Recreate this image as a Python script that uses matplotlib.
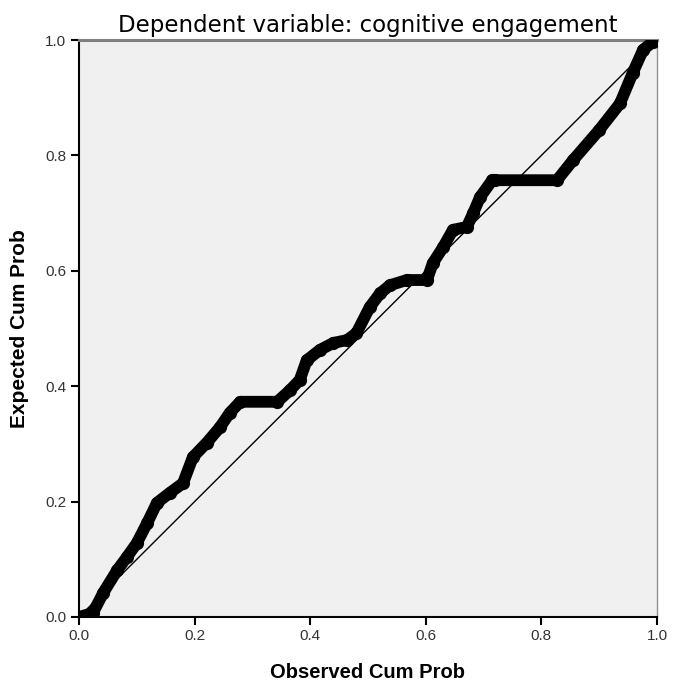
import matplotlib
matplotlib.use("Agg")
import matplotlib.pyplot as plt

observed = [0.0, 0.024, 0.042, 0.066, 0.083, 0.10, 0.118, 0.135, 0.157, 0.18, 0.197,
            0.221, 0.244, 0.261, 0.279, 0.343, 0.365, 0.382, 0.394, 0.417, 0.44, 0.464,
            0.48, 0.503, 0.521, 0.538, 0.567, 0.602, 0.612, 0.63, 0.647, 0.671, 0.682,
            0.694, 0.715, 0.72, 0.827, 0.855, 0.90, 0.936, 0.958, 0.976, 0.993, 1.0]
expected = [0.0, 0.007, 0.042, 0.081, 0.104, 0.128, 0.163, 0.198, 0.215, 0.232, 0.277,
            0.302, 0.329, 0.354, 0.373, 0.373, 0.393, 0.411, 0.445, 0.463, 0.475, 0.48,
            0.492, 0.537, 0.561, 0.575, 0.584, 0.584, 0.613, 0.641, 0.671, 0.676, 0.70,
            0.728, 0.757, 0.757, 0.757, 0.792, 0.844, 0.89, 0.943, 0.983, 0.997, 1.0]
ref_line = [0.0, 1.0]
ticks = [0.0, 0.2, 0.4, 0.6, 0.8, 1.0]
tick_labels = ["0.0", "0.2", "0.4", "0.6", "0.8", "1.0"]

plt.rcParams['font.family'] = ['Liberation Sans', 'DejaVu Sans']

fig = plt.figure(figsize=(6.77, 6.87), dpi=100)
ax = fig.add_axes([79/677, 70/687, 578/677, 577/687])
ax.set_facecolor('#f0f0f0')

ax.plot(ref_line, ref_line, color='black', lw=1.0, zorder=2)
ax.plot(observed, expected, color='black', lw=8.5, solid_capstyle='round',
        solid_joinstyle='round', zorder=3)
ax.plot(observed, expected, 'o', ms=8.5, mfc='black', mec='black', zorder=4)

ax.set_xlim(0, 1)
ax.set_ylim(0, 1)
ax.set_xticks(ticks)
ax.set_xticklabels(tick_labels)
ax.set_yticks(ticks)
ax.set_yticklabels(tick_labels)
ax.tick_params(direction='out', length=6, width=1.5, color='black',
               labelsize=11, labelcolor='#333333', pad=3)

for s in ['left', 'bottom']:
    ax.spines[s].set_color('black')
    ax.spines[s].set_linewidth(1.5)
ax.spines['top'].set_color('#808080')
ax.spines['top'].set_linewidth(2.2)
ax.spines['right'].set_color('#909090')
ax.spines['right'].set_linewidth(1.0)

ax.set_title("Dependent variable: cognitive engagement", fontsize=16.5,
             family=['DejaVu Sans'], pad=6)
ax.set_xlabel("Observed Cum Prob", fontsize=14.5, fontweight='bold', labelpad=14)
ax.set_ylabel("Expected Cum Prob", fontsize=15, fontweight='bold', labelpad=12)

fig.savefig("out.png", dpi=100)
